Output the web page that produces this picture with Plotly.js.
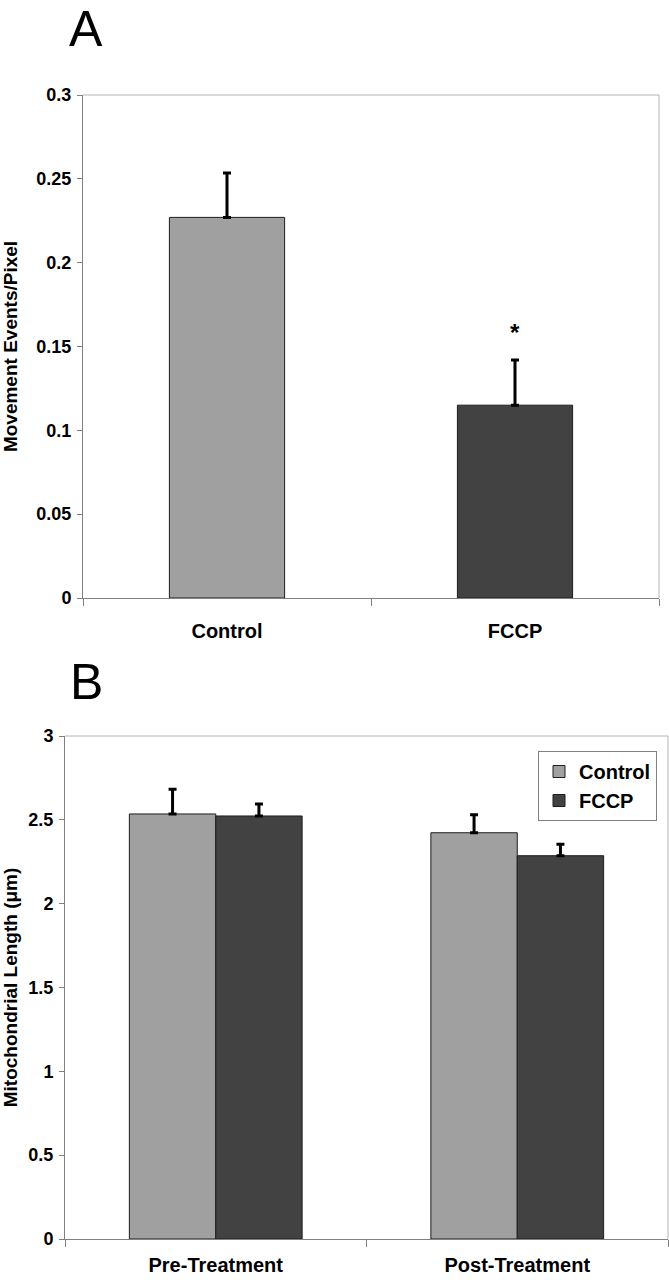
<!DOCTYPE html>
<html>
<head>
<meta charset="utf-8">
<script src="https://cdn.plot.ly/plotly-3.0.1.min.js"></script>
<style>
  html, body { margin: 0; padding: 0; background: #ffffff; }
  #chart { width: 669px; height: 1280px; }
</style>
</head>
<body>
<div id="chart"></div>
<script>
// ---- Panel A data ----
const categoriesA = ["Control", "FCCP"];
const valuesA = [0.227, 0.115];
const errorsA = [0.0265, 0.027];
const colorsA = ["#a0a0a0", "#424242"];

// ---- Panel B data ----
const groupsB = ["Pre-Treatment", "Post-Treatment"];
const controlB = [2.535, 2.423];
const controlErrB = [0.147, 0.108];
const fccpB = [2.523, 2.286];
const fccpErrB = [0.071, 0.068];

const FONT = "Liberation Sans, Arial, Helvetica, sans-serif";
const W = 669, H = 1280;
const px = v => v / W;
const py = v => 1 - v / H;

const errStyle = { color: "#000000", thickness: 3, width: 4 };

const traceA = {
  type: "bar",
  x: categoriesA,
  y: valuesA,
  width: 0.4,
  xaxis: "x", yaxis: "y",
  marker: { color: colorsA, line: { color: "#1e1e1e", width: 1 } },
  error_y: Object.assign({ type: "data", array: errorsA, arrayminus: valuesA.map(() => 0), symmetric: false }, errStyle),
  showlegend: false,
  hoverinfo: "skip"
};

const traceBControl = {
  type: "bar",
  name: "Control",
  x: groupsB,
  y: controlB,
  xaxis: "x2", yaxis: "y2",
  marker: { color: "#a0a0a0", line: { color: "#1e1e1e", width: 1 } },
  error_y: Object.assign({ type: "data", array: controlErrB, arrayminus: controlB.map(() => 0), symmetric: false }, errStyle)
};
const traceBFccp = {
  type: "bar",
  name: "FCCP",
  x: groupsB,
  y: fccpB,
  xaxis: "x2", yaxis: "y2",
  marker: { color: "#424242", line: { color: "#1e1e1e", width: 1 } },
  error_y: Object.assign({ type: "data", array: fccpErrB, arrayminus: fccpB.map(() => 0), symmetric: false }, errStyle)
};

const tickFont = { family: FONT, size: 18, color: "#000000", weight: "bold" };
const catFont = { family: FONT, size: 20, color: "#000000", weight: "bold" };
const titleFont = { family: FONT, size: 19, color: "#000000", weight: "bold" };

const layout = {
  width: W, height: H,
  margin: { l: 0, r: 0, t: 0, b: 0 },
  paper_bgcolor: "#ffffff",
  plot_bgcolor: "#ffffff",
  barmode: "group",
  bargap: 0.427,
  bargroupgap: 0,
  showlegend: true,
  legend: {
    x: px(538), y: py(751), xanchor: "left", yanchor: "top",
    bordercolor: "#808080", borderwidth: 1, bgcolor: "#ffffff",
    font: { family: FONT, size: 20, color: "#000000", weight: "bold" },
    itemwidth: 30, tracegroupgap: 0
  },
  xaxis: {
    domain: [px(83), px(659)], anchor: "y",
    type: "category",
    showline: true, linecolor: "#808080", linewidth: 1,
    ticks: "outside", tickson: "boundaries", ticklen: 7, tickcolor: "#808080",
    tickfont: catFont, ticklabelstandoff: 15,
    showgrid: false, zeroline: false, fixedrange: true
  },
  yaxis: {
    domain: [py(598), py(95)], anchor: "x",
    range: [0, 0.3], dtick: 0.05, tick0: 0,
    showline: true, linecolor: "#808080", linewidth: 1,
    ticks: "outside", ticklen: 5, tickcolor: "#808080",
    tickfont: tickFont, ticklabelstandoff: 2,
    showgrid: false, zeroline: false,
    title: { text: "Movement Events/Pixel", font: titleFont, standoff: 14 }
  },
  xaxis2: {
    domain: [px(65), px(668)], anchor: "y2",
    type: "category",
    showline: true, linecolor: "#808080", linewidth: 1,
    ticks: "outside", tickson: "boundaries", ticklen: 7, tickcolor: "#808080",
    tickfont: catFont, ticklabelstandoff: 8,
    showgrid: false, zeroline: false
  },
  yaxis2: {
    domain: [py(1239), py(736)], anchor: "x2",
    range: [0, 3], dtick: 0.5, tick0: 0,
    showline: true, linecolor: "#808080", linewidth: 1,
    ticks: "outside", ticklen: 5, tickcolor: "#808080",
    tickfont: tickFont, ticklabelstandoff: 2,
    showgrid: false, zeroline: false,
    title: { text: "Mitochondrial Length (μm)", font: titleFont, standoff: 6 }
  },
  shapes: [
    { type: "line", xref: "x domain", yref: "y domain", x0: 0, x1: 1, y0: 1, y1: 1, line: { color: "#b4b4b4", width: 1 } },
    { type: "line", xref: "x domain", yref: "y domain", x0: 1, x1: 1, y0: 0, y1: 1, line: { color: "#b4b4b4", width: 1 } },
    { type: "line", xref: "x2 domain", yref: "y2 domain", x0: 0, x1: 1, y0: 1, y1: 1, line: { color: "#b4b4b4", width: 1 } },
    { type: "line", xref: "x2 domain", yref: "y2 domain", x0: 1, x1: 1, y0: 0, y1: 1, line: { color: "#b4b4b4", width: 1 } }
  ],
  annotations: [
    { text: "A", xref: "paper", yref: "paper", x: px(86), y: 1, xanchor: "center", yanchor: "top",
      showarrow: false, borderpad: 0, font: { family: FONT, size: 50, color: "#000000" } },
    { text: "B", xref: "paper", yref: "paper", x: px(86), y: py(682), xanchor: "center", yanchor: "middle",
      showarrow: false, font: { family: FONT, size: 50, color: "#000000" } },
    { text: "*", xref: "x", yref: "y", x: categoriesA[1], y: valuesA[1] + errorsA[1],
      xanchor: "center", yanchor: "bottom", yshift: 12, showarrow: false,
      font: { family: FONT, size: 24, color: "#000000", weight: "bold" } }
  ]
};

Plotly.newPlot("chart", [traceA, traceBControl, traceBFccp], layout, { displayModeBar: false, staticPlot: true });
</script>
</body>
</html>
